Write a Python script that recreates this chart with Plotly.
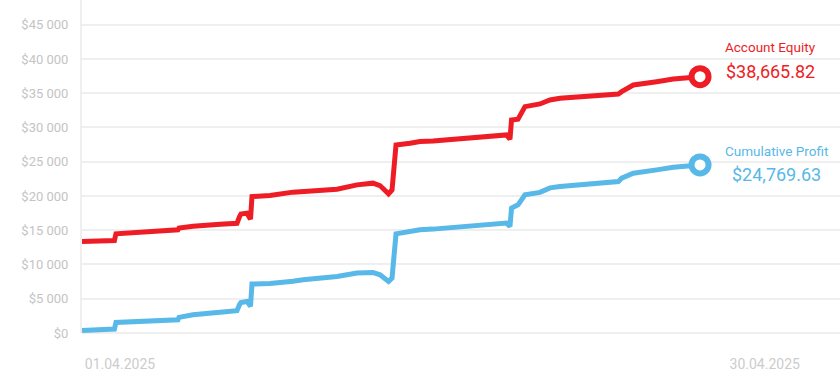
import plotly.graph_objects as go

dates = [
    "2025-03-30 07:00", "2025-03-31 16:30", "2025-03-31 18:00", "2025-03-31 19:40",
    "2025-04-03 14:36", "2025-04-03 15:42", "2025-04-04 06:48", "2025-04-05 12:00",
    "2025-04-06 06:18", "2025-04-06 09:00", "2025-04-06 10:36", "2025-04-06 17:06",
    "2025-04-06 20:54", "2025-04-06 22:30", "2025-04-07 17:54", "2025-04-08 18:48",
    "2025-04-09 05:36", "2025-04-10 18:18", "2025-04-11 15:54", "2025-04-12 09:06",
    "2025-04-12 16:42", "2025-04-13 01:54", "2025-04-13 05:42", "2025-04-13 10:00",
    "2025-04-14 01:06", "2025-04-14 11:54", "2025-04-15 01:54", "2025-04-16 14:36",
    "2025-04-18 09:18", "2025-04-18 13:00", "2025-04-18 14:42", "2025-04-18 21:42",
    "2025-04-19 00:54", "2025-04-19 05:12", "2025-04-19 21:24", "2025-04-20 08:12",
    "2025-04-20 19:00", "2025-04-22 03:24", "2025-04-23 10:00", "2025-04-23 13:36",
    "2025-04-24 02:12", "2025-04-25 03:24", "2025-04-25 21:18", "2025-04-27 02:12",
]

account_equity = [
    13356, 13502, 13502, 14478,
    15062, 15310, 15572, 15864,
    16010, 16957, 17351, 17497,
    16622, 19917, 20063, 20558,
    20675, 20996, 21623, 21871,
    21521, 20311, 20894, 27455,
    27703, 27936, 28039, 28432,
    28913, 28286, 31101, 31202,
    32077, 33039, 33433, 34016,
    34264, 34599, 34891, 35227,
    36204, 36685, 37079, 37414,
]

cumulative_profit = [
    379, 583, 583, 1546,
    1939, 2275, 2668, 3033,
    3251, 4126, 4462, 4608,
    3878, 7144, 7217, 7553,
    7771, 8252, 8748, 8836,
    8500, 7524, 8019, 14478,
    14814, 15061, 15163, 15645,
    16038, 15543, 18225, 18706,
    19435, 20165, 20529, 21185,
    21375, 21769, 22104, 22600,
    23328, 23809, 24203, 24538,
]

equity_label = "$38,665.82"
profit_label = "$24,769.63"

x_tick_vals = ["2025-04-01", "2025-04-30"]
x_tick_text = ["01.04.2025", "30.04.2025"]
y_tick_vals = [0, 5000, 10000, 15000, 20000, 25000, 30000, 35000, 40000, 45000]
y_tick_text = ["$0", "$5 000", "$10 000", "$15 000", "$20 000",
               "$25 000", "$30 000", "$35 000", "$40 000", "$45 000"]

RED = "#ee1c25"
BLUE = "#58b8e7"
GRID = "#efefef"

fig = go.Figure()

for name, vals, color in [("Account Equity", account_equity, RED),
                          ("Cumulative Profit", cumulative_profit, BLUE)]:
    fig.add_trace(go.Scatter(
        x=dates, y=vals, mode="lines", name=name,
        line=dict(color=color, width=5, shape="linear"),
        hoverinfo="skip",
    ))
    fig.add_trace(go.Scatter(
        x=[dates[-1]], y=[vals[-1]], mode="markers",
        marker=dict(size=17, color="white", line=dict(color=color, width=6)),
        hoverinfo="skip", showlegend=False,
    ))

annots = [
    ("Account Equity", account_equity[-1], RED, 13.5, 70, 30),
    (equity_label, account_equity[-1], RED, 18, 70, 5),
    ("Cumulative Profit", cumulative_profit[-1], BLUE, 13.5, 76, 14),
    (profit_label, cumulative_profit[-1], BLUE, 18, 76, -10),
]
for text, yv, color, size, xs, ys in annots:
    fig.add_annotation(
        x=dates[-1], y=yv, text=text, showarrow=False,
        xshift=xs, yshift=ys, xanchor="center", yanchor="middle",
        font=dict(family="Roboto", size=size, color=color),
    )

fig.update_layout(
    width=840, height=383,
    margin=dict(l=82, r=0, t=0, b=50),
    paper_bgcolor="white", plot_bgcolor="white",
    showlegend=False,
    font=dict(family="Roboto"),
    xaxis=dict(
        type="date",
        range=["2025-03-30 07:00", "2025-05-03 09:18"],
        tickvals=x_tick_vals, ticktext=x_tick_text,
        showgrid=False, zeroline=False,
        showline=False,
        ticks="outside", ticklen=18, tickcolor="rgba(0,0,0,0)",
        tickfont=dict(family="Roboto", size=14, color="#cccccc"),
    ),
    yaxis=dict(
        range=[0, 48605],
        tickvals=y_tick_vals, ticktext=y_tick_text,
        showgrid=True, gridcolor=GRID, gridwidth=2,
        zeroline=True, zerolinecolor=GRID, zerolinewidth=2,
        showline=True, linecolor=GRID, linewidth=2,
        ticks="outside", ticklen=9, tickcolor="rgba(0,0,0,0)",
        tickfont=dict(family="Roboto", size=13, color="#c4c4c4"),
    ),
)

fig.write_html(
    "out.html",
    config={"displayModeBar": False},
    post_script="document.body.style.margin='0';document.body.style.padding='0';",
)
